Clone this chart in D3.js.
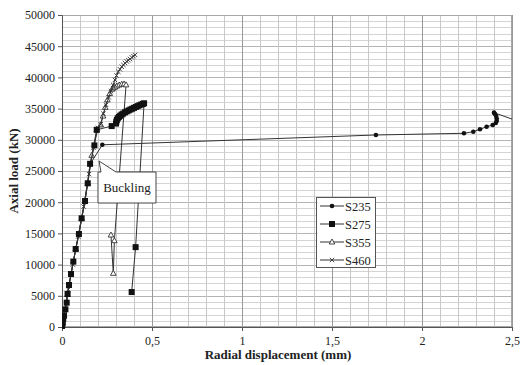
<!DOCTYPE html>
<html>
<head>
<meta charset="utf-8">
<script src="https://cdn.jsdelivr.net/npm/d3@7"></script>
<style>
  html, body { margin: 0; padding: 0; background: #fff; }
  svg { display: block; }
  text { font-family: "Liberation Serif", "Times New Roman", serif; fill: #222; }
</style>
</head>
<body>
<svg id="chart" width="520" height="365"></svg>
<script>
// ---- data (radial displacement mm, axial load kN) ----
const seriesNames = ["S235", "S275", "S355", "S460"];

const s235X = [0, 0.003, 0.006, 0.012, 0.025, 0.04, 0.063, 0.094, 0.128, 0.156, 0.224, 1.744, 2.233, 2.285, 2.322, 2.359, 2.393, 2.41, 2.415, 2.415, 2.412, 2.405, 2.4, 2.56];
const s235Y = [0, 400, 900, 1900, 3900, 6800, 10500, 14900, 20200, 26100, 29200, 30770, 31040, 31300, 31680, 32100, 32370, 32700, 33000, 33400, 33800, 34150, 34350, 32700];

const s275X = [0, 0.002, 0.004, 0.007, 0.011, 0.019, 0.026, 0.031, 0.039, 0.05, 0.063, 0.076, 0.094, 0.109, 0.128, 0.143, 0.156, 0.18, 0.193, 0.276, 0.3, 0.302, 0.305, 0.31, 0.316, 0.323, 0.331, 0.34, 0.35, 0.36, 0.37, 0.38, 0.39, 0.4, 0.41, 0.42, 0.43, 0.44, 0.45, 0.456, 0.409, 0.387];
const s275Y = [0, 350, 800, 1300, 1820, 2830, 3900, 5290, 6730, 8490, 10470, 12500, 14900, 17420, 20190, 23030, 26150, 29100, 31600, 32200, 32600, 32900, 33200, 33450, 33650, 33850, 34050, 34200, 34400, 34550, 34700, 34850, 34980, 35120, 35260, 35400, 35530, 35650, 35760, 35850, 12800, 5600];

const s355X = [0, 0.004, 0.012, 0.03, 0.05, 0.076, 0.109, 0.143, 0.165, 0.193, 0.215, 0.228, 0.24, 0.252, 0.265, 0.278, 0.285, 0.295, 0.305, 0.318, 0.332, 0.345, 0.356, 0.291, 0.285, 0.272];
const s355Y = [0, 600, 1900, 5200, 8500, 12500, 17400, 23000, 27500, 31600, 32400, 33800, 35200, 36400, 37400, 38100, 38300, 38450, 38620, 38780, 38900, 38950, 38800, 13830, 8600, 14740];

const s460X = [0, 0.005, 0.015, 0.035, 0.06, 0.09, 0.12, 0.15, 0.175, 0.2, 0.215, 0.23, 0.245, 0.26, 0.272, 0.284, 0.294, 0.303, 0.313, 0.322, 0.332, 0.341, 0.35, 0.36, 0.369, 0.378, 0.388, 0.397, 0.406];
const s460Y = [0, 800, 2600, 6000, 10000, 14500, 19300, 24500, 28700, 31900, 32500, 34200, 35600, 36800, 37800, 38800, 39600, 40300, 40900, 41300, 41700, 42000, 42300, 42550, 42750, 42950, 43200, 43400, 43600];

const xTicks = [0, 0.5, 1, 1.5, 2, 2.5];
const yTicks = [0, 5000, 10000, 15000, 20000, 25000, 30000, 35000, 40000, 45000, 50000];
const xTitle = "Radial displacement (mm)";
const yTitle = "Axial load (kN)";
const calloutText = "Buckling";

// ---- layout ----
const svg = d3.select("#chart");
const W = 520, H = 365;
const m = { left: 62, right: 8, top: 15, bottom: 38 };
const pw = W - m.left - m.right, ph = H - m.top - m.bottom;

const x = d3.scaleLinear().domain([0, 2.5]).range([m.left, m.left + pw]);
const y = d3.scaleLinear().domain([0, 50000]).range([m.top + ph, m.top]);

const fmt = d => String(d).replace(".", ",");

// grid
const g = svg.append("g");
const minorX = d3.range(0, 26).map(i => i / 10);
const minorY = d3.range(0, 51).map(i => i * 1000);
g.selectAll(".hy").data(minorY).join("line")
  .attr("x1", m.left).attr("x2", m.left + pw)
  .attr("y1", d => Math.round(y(d)) + 0.5).attr("y2", d => Math.round(y(d)) + 0.5)
  .attr("stroke", d => d % 5000 === 0 ? "#b4b4b4" : "#d4d4d4").attr("stroke-width", 1);
g.selectAll(".vx").data(minorX).join("line")
  .attr("y1", m.top).attr("y2", m.top + ph)
  .attr("x1", d => Math.round(x(d)) + 0.5).attr("x2", d => Math.round(x(d)) + 0.5)
  .attr("stroke", (d, i) => i % 5 === 0 ? "#9a9a9a" : "#c8c8c8").attr("stroke-width", 1);

// plot border
svg.append("rect").attr("x", m.left + 0.5).attr("y", m.top + 0.5)
  .attr("width", pw - 1).attr("height", ph - 1)
  .attr("fill", "none").attr("stroke", "#a8a8a8");

// axes
const xAxis = svg.append("g").attr("transform", `translate(0,${m.top + ph})`)
  .call(d3.axisBottom(x).tickValues(xTicks).tickFormat(fmt).tickSize(4).tickPadding(5));
const yAxis = svg.append("g").attr("transform", `translate(${m.left},0)`)
  .call(d3.axisLeft(y).tickValues(yTicks).tickFormat(d => d).tickSize(4).tickPadding(3));
[xAxis, yAxis].forEach(a => {
  a.select(".domain").attr("stroke", "#555");
  a.selectAll(".tick line").attr("stroke", "#555");
  a.selectAll("text").attr("font-family", "Liberation Serif, serif").attr("font-size", 12).attr("fill", "#333");
});

// titles
svg.append("text").attr("x", x(1.2)).attr("y", 359).attr("text-anchor", "middle")
  .attr("font-size", 13).attr("font-weight", "bold").text(xTitle);
svg.append("text").attr("transform", `translate(18,${y(25000)}) rotate(-90)`)
  .attr("text-anchor", "middle").attr("font-size", 13).attr("font-weight", "bold").text(yTitle);

// clip
svg.append("clipPath").attr("id", "clip").append("rect")
  .attr("x", m.left).attr("y", m.top - 6).attr("width", pw).attr("height", ph + 8);

const line = d3.line().x(d => x(d[0])).y(d => y(d[1]));
const series = [
  { name: seriesNames[0], xs: s235X, ys: s235Y, marker: "dot" },
  { name: seriesNames[1], xs: s275X, ys: s275Y, marker: "square" },
  { name: seriesNames[2], xs: s355X, ys: s355Y, marker: "tri" },
  { name: seriesNames[3], xs: s460X, ys: s460Y, marker: "cross" }
];

function drawMarker(sel, type, cx, cy) {
  if (type === "dot") {
    sel.append("circle").attr("cx", cx).attr("cy", cy).attr("r", 2.3).attr("fill", "#111");
  } else if (type === "square") {
    sel.append("rect").attr("x", cx - 3).attr("y", cy - 3).attr("width", 6).attr("height", 6).attr("fill", "#111");
  } else if (type === "tri") {
    sel.append("path").attr("d", `M${cx},${cy - 3}L${cx + 2.8},${cy + 2}L${cx - 2.8},${cy + 2}Z`)
      .attr("fill", "#fff").attr("stroke", "#333").attr("stroke-width", 0.9);
  } else {
    sel.append("path").attr("d", `M${cx - 2.2},${cy - 2.2}L${cx + 2.2},${cy + 2.2}M${cx - 2.2},${cy + 2.2}L${cx + 2.2},${cy - 2.2}`)
      .attr("stroke", "#333").attr("stroke-width", 0.9);
  }
}

const plot = svg.append("g").attr("clip-path", "url(#clip)");
const order = [0, 2, 3, 1];
order.forEach(i => {
  const s = series[i];
  const pts = s.xs.map((v, j) => [v, s.ys[j]]);
  plot.append("path").datum(pts).attr("d", line)
    .attr("fill", "none").attr("stroke", "#333").attr("stroke-width", 1);
  const mg = plot.append("g");
  pts.forEach(p => drawMarker(mg, s.marker, x(p[0]), y(p[1])));
});

// callout "Buckling"
const cb = { x0: 98, y0: 172, x1: 156, y1: 203 };
const tip = [99, 161];
svg.append("path")
  .attr("d", `M${cb.x0},${cb.y0}L${101},${cb.y0}L${tip[0]},${tip[1]}L${116},${cb.y0}L${cb.x1},${cb.y0}L${cb.x1},${cb.y1}L${cb.x0},${cb.y1}Z`)
  .attr("fill", "#fff").attr("stroke", "#444").attr("stroke-width", 1);
svg.append("text").attr("x", (cb.x0 + cb.x1) / 2).attr("y", 192).attr("text-anchor", "middle")
  .attr("font-size", 13).text(calloutText);

// legend
const lg = svg.append("g");
lg.append("rect").attr("x", 316.5).attr("y", 197.5).attr("width", 59).attr("height", 70)
  .attr("fill", "#fff").attr("stroke", "#555");
series.forEach((s, i) => {
  const ly = 206 + i * 18;
  lg.append("line").attr("x1", 320).attr("x2", 344).attr("y1", ly).attr("y2", ly).attr("stroke", "#333");
  drawMarker(lg, s.marker, 332, ly);
  lg.append("text").attr("x", 345).attr("y", ly + 4.5).attr("font-size", 12.5).text(s.name);
});
</script>
</body>
</html>
